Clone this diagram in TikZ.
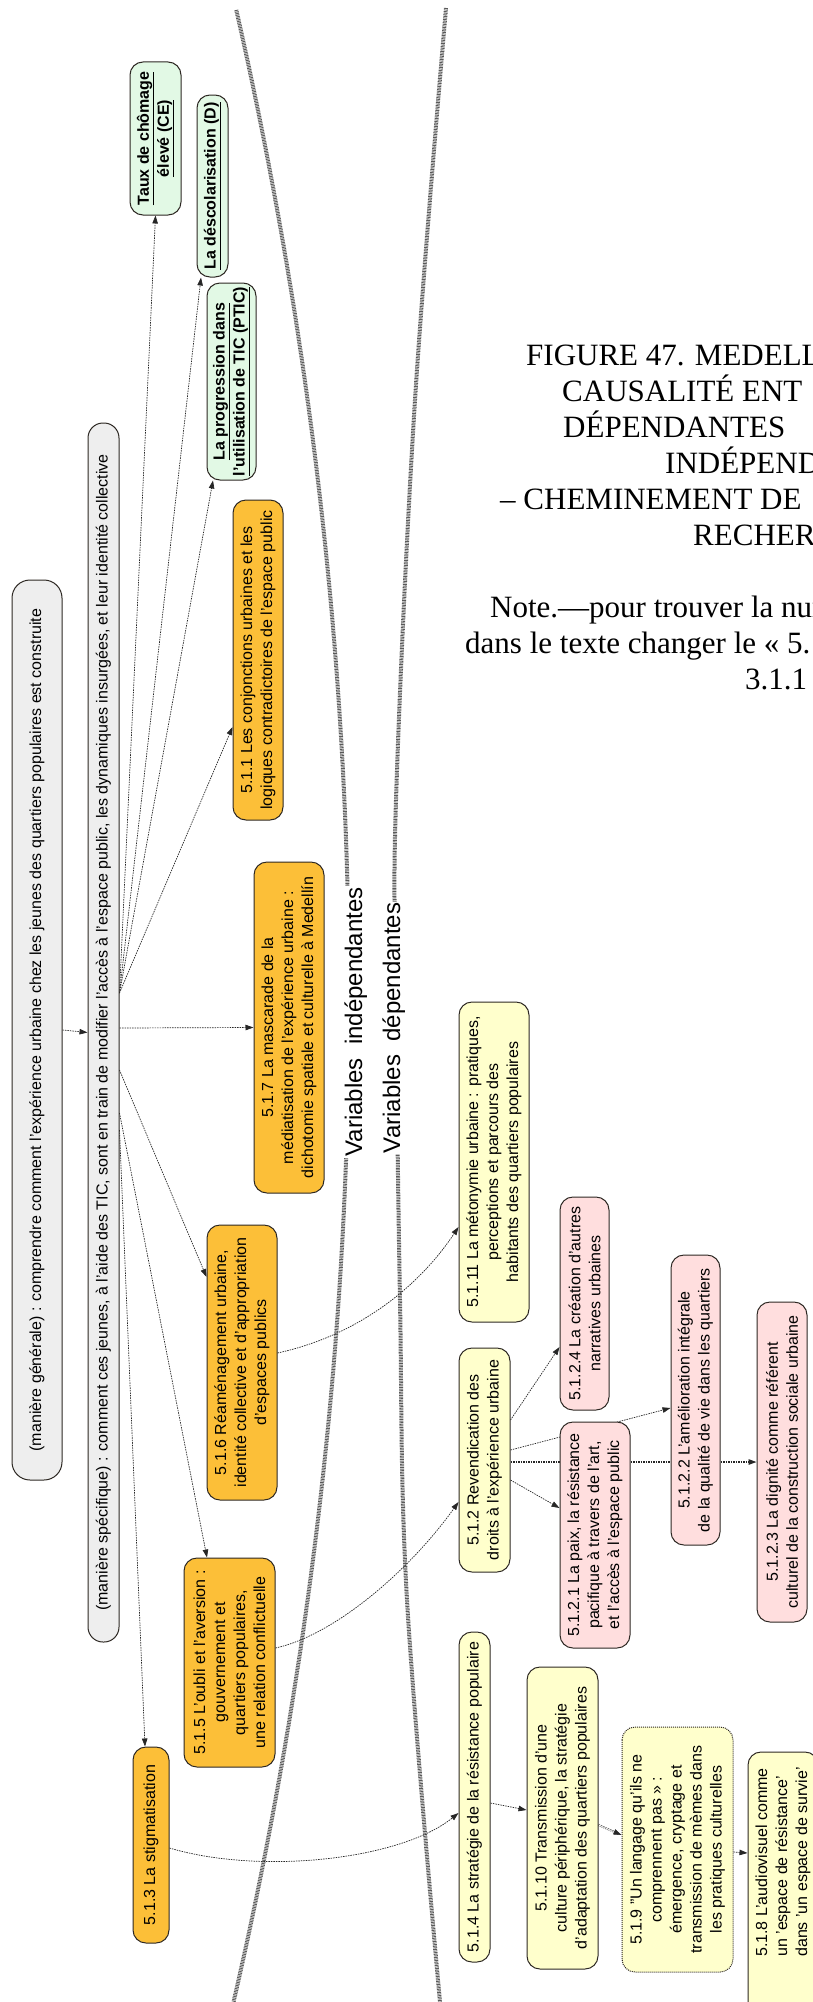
\documentclass[tikz,border=0pt]{standalone}
\usepackage{fontspec}
\setmainfont{Liberation Sans}
\newfontfamily\capfont{Liberation Serif}
\usetikzlibrary{arrows.meta,backgrounds,calc}
\definecolor{greyfill}{RGB}{238,238,238}
\definecolor{orangefill}{RGB}{252,191,56}
\definecolor{greenfill}{RGB}{226,249,229}
\definecolor{yellowfill}{RGB}{255,255,204}
\definecolor{pinkfill}{RGB}{255,222,222}
\definecolor{edge}{RGB}{45,40,35}
\begin{document}
\begin{tikzpicture}[x=1pt,y=-1pt,
  bx/.style={draw=edge, line width=1pt, rounded corners=13pt, rotate=90, align=center, inner sep=2pt, font=\fontsize{16}{20}\selectfont},
  gbox/.style={bx, fill=greyfill, rounded corners=15pt},
  obox/.style={bx, fill=orangefill},
  vbox/.style={bx, fill=greenfill, font=\bfseries\fontsize{16}{20}\selectfont},
  ybox/.style={bx, fill=yellowfill},
  pbox/.style={bx, fill=pinkfill},
  sz/.style 2 args={minimum width=#1pt, minimum height=#2pt},
  conn/.style={draw=black!85, line width=0.7pt, dash pattern=on 1.5pt off 1pt, -{Triangle[length=8pt,width=5.5pt]}},
  vline/.style={draw=black!65, line width=4pt, dash pattern=on 0.9pt off 0.7pt},
  vlabel/.style={rotate=90, fill=white, inner sep=1pt, anchor=base, font=\fontsize{24}{28}\selectfont},
  captext/.style={anchor=base west, inner sep=0pt, font=\capfont\fontsize{31}{36}\selectfont},
]
\useasboundingbox (0,0) rectangle (813,2002);
\clip (0,0) rectangle (813,2002);

% caption
\node[captext] (c1) at (526,365) {FIGURE 47. MEDELL};
\node[captext] (c2) at (562,401) {CAUSALITÉ ENT};
\node[captext] (c3) at (563,437) {DÉPENDANTES};
\node[captext] (c4) at (665,473) {INDÉPEND};
\node[captext] (c5) at (500,509) {– CHEMINEMENT DE};
\node[captext] (c6) at (693,545) {RECHER};
\node[captext] (c7) at (490,617) {Note.—pour trouver la num};
\node[captext] (c8) at (465,653) {dans le texte changer le « 5.};
\node[captext] (c9) at (745,689) {3.1.1};

% grey boxes
\node[gbox, sz={900}{50}, rounded corners=18pt] (a) at (37,1030) {(manière générale) : comprendre comment l'expérience urbaine chez les jeunes des quartiers populaires est construite};
\node[gbox, sz={1219}{31}] (b) at (103.5,1032.5) {(manière spécifique) : comment ces jeunes, à l'aide des TIC, sont en train de modifier l'accès à l'espace public, les dynamiques insurgées, et leur identité collective};

% green boxes
\node[vbox, sz={153}{51}] (taux) at (155.5,138.5) {\underline{Taux de chômage}\\\underline{élevé (CE)}};
\node[vbox, sz={182}{31}] (desc) at (212.5,186) {\underline{La déscolarisation (D)}};
\node[vbox, sz={197}{49}] (ptic) at (231.5,381.5) {\underline{La progression dans}\\\underline{l'utilisation de TIC (PTIC)}};

% orange boxes
\node[obox, sz={320}{50}] (n511) at (258,660) {5.1.1 Les conjonctions urbaines et les\\logiques contradictoires de l'espace public};
\node[obox, sz={331}{70}] (n517) at (289,1027.5) {5.1.7 La mascarade de la\\médiatisation de l'expérience urbaine :\\dichotomie spatiale et culturelle à Medellín};
\node[obox, sz={275}{70}] (n516) at (242,1362.5) {5.1.6 Réaménagement urbaine,\\identité collective et d'appropriation\\d'espaces publics};
\node[obox, sz={209}{91}] (n515) at (229.5,1662.5) {5.1.5 L'oubli et l'aversion :\\gouvernement et\\quartiers populaires,\\une relation conflictuelle};
\node[obox, sz={196}{36}] (n513) at (151,1845) {5.1.3 La stigmatisation};

% yellow boxes
\node[ybox, sz={320}{70}] (n5111) at (494,1162) {5.1.11 La métonymie urbaine : pratiques,\\perceptions et parcours des\\habitants des quartiers populaires};
\node[ybox, sz={224}{51}] (n512) at (484.5,1460) {5.1.2 Revendication des\\droits à l'expérience urbaine};
\node[ybox, sz={330}{31}] (n514) at (474.5,1797) {5.1.4 La stratégie de la résistance populaire};
\node[ybox, sz={302}{71}] (n5110) at (562.5,1818) {5.1.10 Transmission d'une\\culture périphérique, la stratégie\\d'adaptation des quartiers populaires};
\node[ybox, sz={245}{111}, dash pattern=on 1pt off 1pt] (n519) at (677.5,1849.5) {5.1.9 "Un langage qu'ils ne\\comprennent pas » :\\émergence, cryptage et\\transmission de mèmes dans\\les pratiques culturelles};
\node[ybox, sz={290}{70}, align=left] (n518) at (783,1897) {\hspace*{70pt}5.1.8 L'audiovisuel comme\\\hspace*{70pt}un 'espace de résistance'\\\hspace*{70pt}dans 'un espace de survie'};

% pink boxes
\node[pbox, sz={213}{49}] (n5124) at (584.5,1303.5) {5.1.2.4 La création d'autres\\narratives urbaines};
\node[pbox, sz={226}{70}] (n5121) at (595,1535) {5.1.2.1 La paix, la résistance\\pacifique à travers de l'art,\\et l'accès à l'espace public};
\node[pbox, sz={290}{49}] (n5122) at (695.5,1400) {5.1.2.2 L'amélioration intégrale\\de la qualité de vie dans les quartiers};
\node[pbox, sz={320}{50}] (n5123) at (782,1462) {5.1.2.3 La dignité comme référent\\culturel de la construction sociale urbaine};

% variable labels
\node[vlabel] (vi) at (362,1022) {Variables\ \ indépendantes};
\node[vlabel] (vd) at (400,1028) {Variables\ \ dépendantes};

\begin{pgfonlayer}{background}
\draw[vline] plot[domain=10:2002, samples=80] ({349-1.15*((\x-1000)/100)^2}, \x);
\draw[vline] plot[smooth, tension=0.6] coordinates {(446,8) (415,400) (396,800) (396,1000) (400,1300) (407,1600) (440,2002)};

\draw[conn] (a.south) -- (b.north);
\draw[conn] (b.south |- 0,993) -- (taux.west);
\draw[conn] (b.south |- 0,993) -- (desc.west -| 201,0);
\draw[conn] (b.south |- 0,993) -- (ptic.west -| 213,0);
\draw[conn] (b.south |- 0,993) -- (n511.north |- 0,727);
\draw[conn] (b.south |- 0,1028) -- (n517.north);
\draw[conn] (b.south |- 0,1070) -- (n516.north |- 0,1277);
\draw[conn] (b.south |- 0,1113) -- (n515.east -| 207,0);
\draw[conn] (b.south |- 0,1130) -- (n513.east -| 145,0);
\draw[conn] (n516.south |- 0,1353) .. controls (360,1335) and (420,1285) .. (n5111.north |- 0,1227);
\draw[conn] (n515.south |- 0,1648) .. controls (335,1635) and (410,1570) .. (n512.north |- 0,1502);
\draw[conn] (n513.south |- 0,1848) .. controls (260,1875) and (400,1860) .. (n514.north |- 0,1813);
\draw[conn] (n512.south |- 0,1420) -- (n5124.north |- 0,1347);
\draw[conn] (n512.south |- 0,1480) -- (n5121.north |- 0,1508);
\draw[conn] (n512.south |- 0,1450) -- (n5122.north |- 0,1408);
\draw[conn, line width=1.2pt] (n512.south |- 0,1462) -- (n5123.north |- 0,1462);
\draw[conn] (n514.south |- 0,1803) -- (n5110.north |- 0,1810);
\draw[conn, double, double distance=0.8pt, line width=0.5pt] (n5110.south |- 0,1825) -- (n519.north |- 0,1835);
\draw[conn] (n519.south |- 0,1852) -- (n518.north |- 0,1853);
\end{pgfonlayer}
\end{tikzpicture}
\end{document}
